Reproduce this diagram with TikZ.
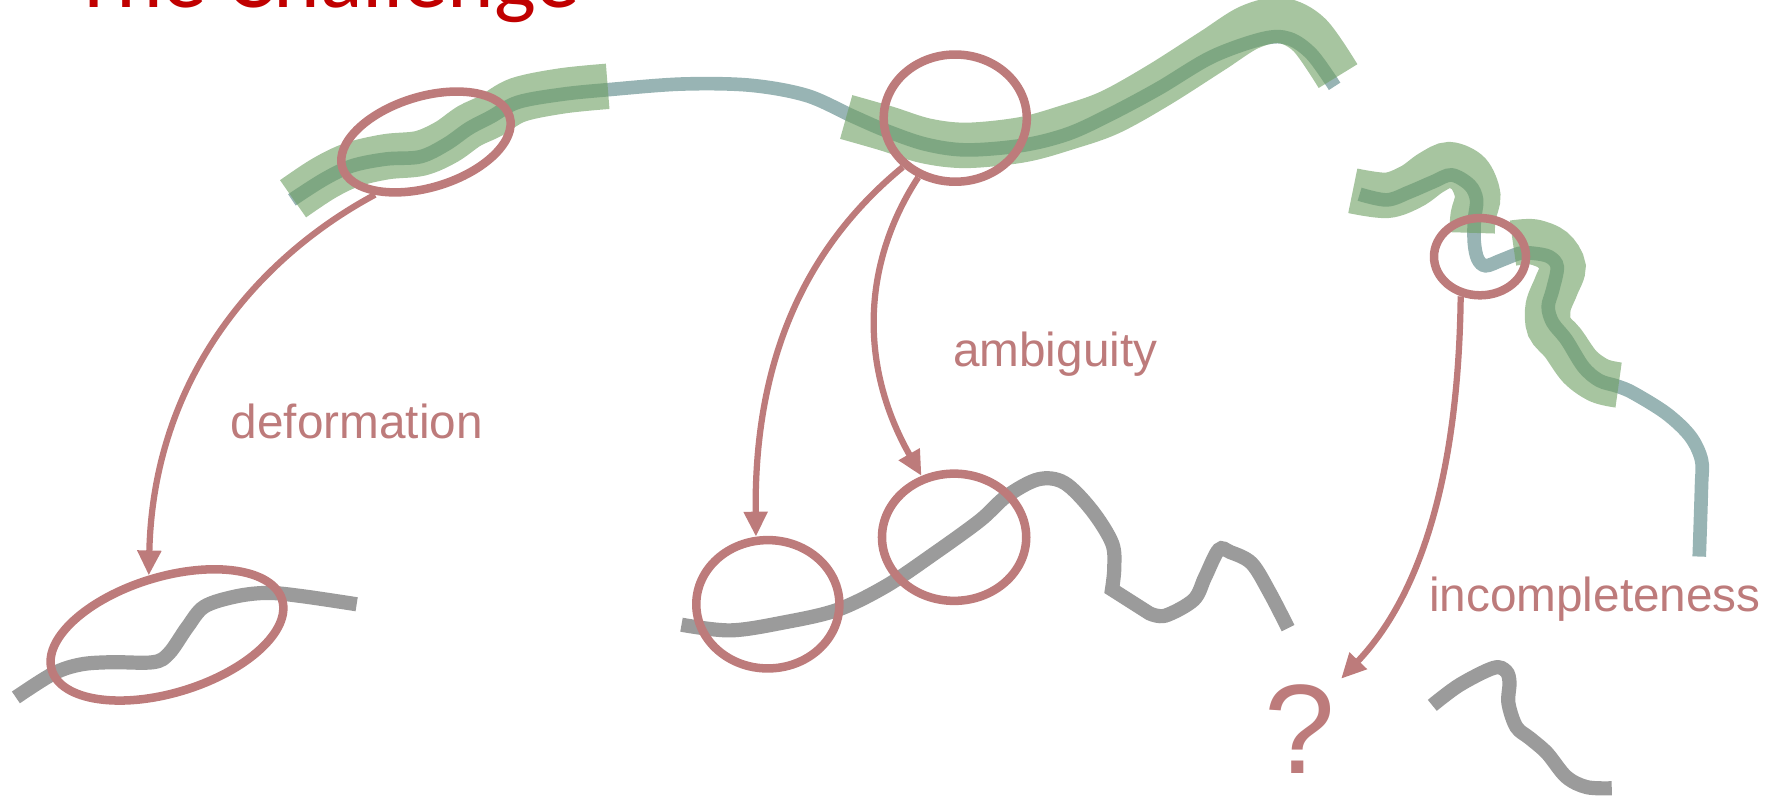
\documentclass[tikz,border=0pt]{standalone}
\usepackage{fontspec}
\usetikzlibrary{shapes.geometric,arrows.meta}
\newfontfamily\lblfont{Liberation Sans}
\newfontfamily\ttlfont{Carlito}
\definecolor{rose}{RGB}{189,123,123}
\definecolor{titlered}{RGB}{192,0,0}
\definecolor{curvegray}{RGB}{155,155,155}
\definecolor{tealgray}{RGB}{152,180,180}
\definecolor{bandgreen}{RGB}{111,160,99}
\begin{document}
\begin{tikzpicture}[x=1pt,y=-1pt,
  graycurve/.style={draw=curvegray, line width=12.5pt},
  tealcurve/.style={draw=tealgray, line width=12pt},
  band/.style={draw=bandgreen, line width=40pt, draw opacity=0.61},
  ring/.style={ellipse, draw=rose, line width=7.5pt, inner sep=0pt},
  link/.style={draw=rose, line width=5.5pt, -{Triangle[length=22pt,width=20pt]}},
  lbl/.style={anchor=base west, inner sep=0pt, text=rose, font=\lblfont\fontsize{42}{48}\selectfont}]
\useasboundingbox (0,0) rectangle (1568,700);

% title
\node[anchor=base west, inner sep=0pt, text=titlered, font=\ttlfont\fontsize{78}{80}\selectfont] (title) at (64,7) {The Challenge};

% teal curves
\draw[tealcurve] plot[smooth, tension=0.55] coordinates {(257,176) (285,158) (310,146) (340,140) (370,138) (393,127) (413,113) (432,103) (456,90) (495,83) (535,79) (600,74) (660,75) (710,84) (750,102) (780,115) (815,127) (851,132) (900,128) (940,118) (977,101) (1020,78) (1067,50) (1112,34) (1135,34) (1155,48) (1175,76)};
\draw[tealcurve] plot[smooth, tension=0.55] coordinates {(1197,171) (1221,176) (1241,169) (1262,160) (1278,154) (1294,163) (1300,176) (1298,194) (1298,214) (1301,228) (1308,234) (1322,229) (1338,223) (1350,223) (1364,226) (1371,235) (1367,255) (1363,270) (1367,284) (1379,299) (1394,323) (1408,335) (1424,340) (1438,346) (1467,364) (1488,384) (1498,405) (1498,428) (1496,490)};

% green bands
\draw[band] plot[smooth, tension=0.55] coordinates {(258,175) (285,157) (310,145) (340,138) (370,135) (393,125) (413,111) (432,102) (456,88) (495,80) (535,76)};
\draw[band] plot[smooth, tension=0.55] coordinates {(745,103) (780,113) (815,124) (851,128) (900,123) (940,112) (977,99) (1020,75) (1067,45) (1100,24) (1128,18) (1153,31) (1178,67)};
\draw[band] plot[smooth, tension=0.55] coordinates {(1191,168) (1221,172) (1243,164) (1260,152) (1276,145) (1293,153) (1301,172) (1297,190) (1296,205)};
\draw[band] plot[smooth, tension=0.55] coordinates {(1332,214) (1350,213) (1367,220) (1376,235) (1370,252) (1363,270) (1364,288) (1376,302) (1391,323) (1408,335) (1425,339)};

% gray curves
\draw[graycurve] plot[smooth, tension=0.55] coordinates {(14,614) (47,593) (71,585) (98,583) (135,583) (149,575) (165,552) (180,534) (208,525) (236,522) (267,525) (314,532)};
\draw[graycurve] plot[smooth, tension=0.55] coordinates {(600,550) (643,555) (690,548) (737,537) (780,516) (823,487) (863,458) (886,437) (914,422) (937,425) (961,449) (979,478) (981,500) (979,519)} -- plot[smooth, tension=0.55] coordinates {(1012,540) (1026,542) (1051,528) (1061,508) (1073,484) (1083,486) (1102,496) (1118,522) (1134,553)};
\draw[graycurve] plot[smooth, tension=0.55] coordinates {(1261,621) (1285,603) (1315,588) (1326,591) (1329,601) (1328,619) (1335,640) (1347,650) (1362,663) (1379,684) (1397,693) (1419,694)};

% ellipses
\node[ring, minimum width=154pt, minimum height=80pt, rotate=17] (e1) at (375,125) {};
\node[ring, minimum width=126pt, minimum height=112pt] (etop) at (841,104) {};
\node[ring, minimum width=81pt, minimum height=68pt] (e4) at (1303,226) {};
\node[ring, minimum width=212pt, minimum height=102pt, rotate=17] (e5) at (147,559) {};
\node[ring, minimum width=126pt, minimum height=113pt] (e2) at (676,532) {};
\node[ring, minimum width=127pt, minimum height=112pt] (e3) at (840,473) {};

% labels
\node[lbl] (deform) at (203,386) {deformation};
\node[lbl] (ambig) at (839,323) {ambiguity};
\node[lbl] (incomp) at (1258,538) {incompleteness};
\node[anchor=base west, inner sep=5pt, text=rose, font=\lblfont\fontsize{112}{114}\selectfont] (q) at (1108,681) {?};

% arrows
\draw[link] (e1.209) .. controls (230,225) and (135,330) .. (e5.90);
\draw[link] (etop.223) .. controls (700,225) and (664,330) .. (e2.100);
\draw[link] (etop.238) .. controls (760,230) and (755,320) .. (e3.118);
\draw[link] (e4.244) .. controls (1284,420) and (1250,525) .. (q.north east);
\end{tikzpicture}
\end{document}
